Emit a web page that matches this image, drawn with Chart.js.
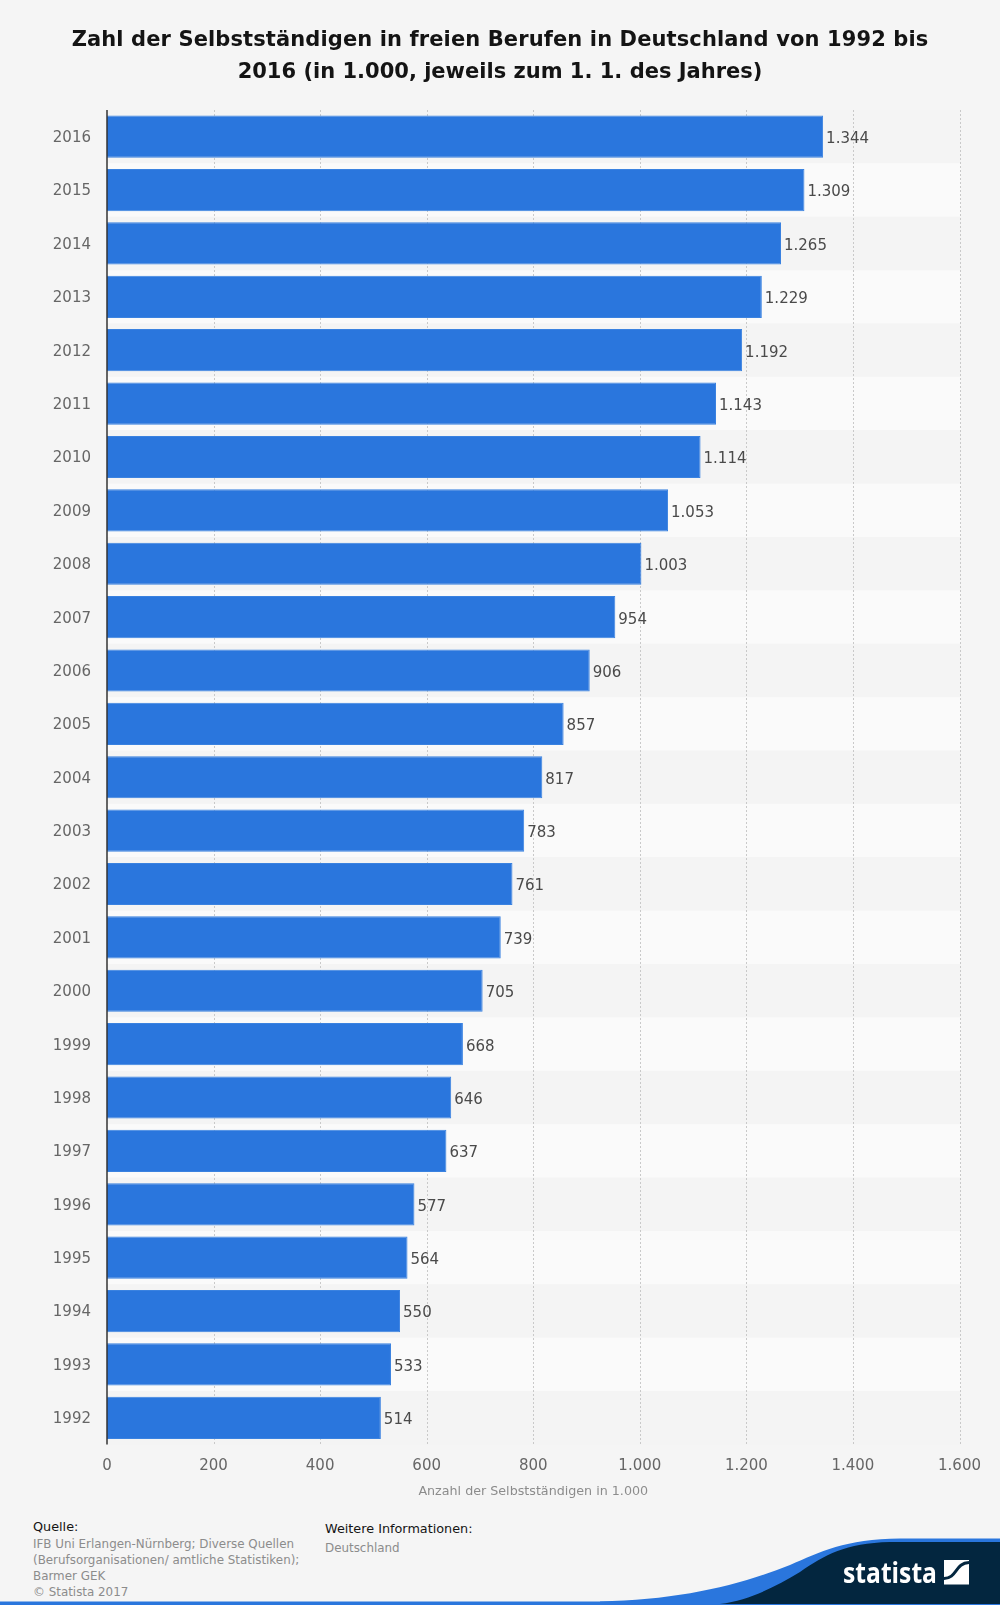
<!DOCTYPE html>
<html><head><meta charset="utf-8">
<script src="https://cdn.jsdelivr.net/npm/chart.js@4/dist/chart.umd.min.js"></script>
<style>
html,body{margin:0;padding:0;background:#f5f5f5;}
body{width:1000px;height:1605px;position:relative;overflow:hidden;font-family:"DejaVu Sans",sans-serif;}
#title{position:absolute;left:40px;width:920px;top:23px;text-align:center;font-weight:bold;font-size:21px;line-height:32px;color:#141414;letter-spacing:0.11px;}
#title span{letter-spacing:0;}
#wrap{position:absolute;left:0;top:0;width:1000px;height:1510px;}
.f{position:absolute;font-size:11.9px;line-height:16px;color:#8c8c8c;white-space:nowrap;}
.h{color:#141414;font-size:12.8px;}
svg{position:absolute;left:0;top:0;}
</style></head><body>
<div id="wrap"><canvas id="c"></canvas></div>
<div id="title">Zahl der Selbstständigen in freien Berufen in Deutschland von 1992 bis<br><span>2016 (in 1.000, jeweils zum 1. 1. des Jahres)</span></div>
<div class="f h" style="left:33px;top:1519px">Quelle:</div>
<div class="f" style="left:33px;top:1536px">IFB Uni Erlangen-Nürnberg; Diverse Quellen<br>(Berufsorganisationen/ amtliche Statistiken);<br>Barmer GEK<br>© Statista 2017</div>
<div class="f h" style="left:325px;top:1521px">Weitere Informationen:</div>
<div class="f" style="left:325px;top:1540px">Deutschland</div>
<svg width="1000" height="1605" viewBox="0 0 1000 1605">
<rect x="0" y="1601.5" width="1000" height="3.5" fill="#2a76dd"/>
<path d="M600 1601.5 C680 1600 740 1585 790 1565 C820 1552 845 1539 900 1538.5 L1000 1538.5 L1000 1605 L600 1605 Z" fill="#2a76dd"/>
<path d="M720 1604 C750 1600 775 1587 800 1572 C825 1555 845 1543 890 1542 L1000 1542 L1000 1604 Z" fill="#03263f"/>
<text x="843" y="1583" font-family="'Open Sans',sans-serif" font-weight="bold" font-size="29" fill="#fff" textLength="94" lengthAdjust="spacingAndGlyphs">statista</text>
<rect x="944" y="1560" width="25" height="24.5" fill="#fff"/>
<path d="M944 1578.5 C957 1578.5 955 1563 969 1562.5" fill="none" stroke="#03263f" stroke-width="3"/>
</svg>
<script>
const categories=["2016","2015","2014","2013","2012","2011","2010","2009","2008","2007","2006","2005","2004","2003","2002","2001","2000","1999","1998","1997","1996","1995","1994","1993","1992"];
const values=[1344,1309,1265,1229,1192,1143,1114,1053,1003,954,906,857,817,783,761,739,705,668,646,637,577,564,550,533,514];
const axisTitle="Anzahl der Selbstständigen in 1.000";
const fmt=v=>String(v).replace(/\B(?=(\d{3})+$)/g,".");
const stripes={id:"stripes",beforeDatasetsDraw(ch){
  const {ctx,chartArea:a,scales:{y}}=ch;const h=(y.getPixelForValue(1)-y.getPixelForValue(0));
  categories.forEach((c,i)=>{ctx.fillStyle=i%2?"#fafafa":"#f4f4f4";
    ctx.fillRect(a.left,y.getPixelForValue(i)-h/2,a.right-a.left+1.5,h);});
  const x=ch.scales.x;ctx.save();ctx.strokeStyle="#c9c9c9";ctx.lineWidth=1;ctx.setLineDash([2,2]);
  x.ticks.forEach(t=>{if(!t.value)return;const p=Math.round(x.getPixelForValue(t.value))+.5;ctx.beginPath();ctx.moveTo(p,a.top);ctx.lineTo(p,a.bottom);ctx.stroke();});
  ctx.restore();
}};
const labels={id:"labels",afterDatasetsDraw(ch){
  const {ctx}=ch;ctx.save();ctx.font='15px "DejaVu Sans"';ctx.fillStyle="#4a4a4a";ctx.textBaseline="middle";ctx.textAlign="left";
  ch.getDatasetMeta(0).data.forEach((b,i)=>ctx.fillText(fmt(values[i]),b.x+3,b.y+2.5));
  const a=ch.chartArea;ctx.strokeStyle="#333";ctx.lineWidth=1.5;ctx.beginPath();ctx.moveTo(a.left,a.top);ctx.lineTo(a.left,a.bottom);ctx.stroke();
  ctx.restore();
}};
new Chart(document.getElementById("c"),{type:"bar",
 data:{labels:categories,datasets:[{data:values,backgroundColor:"#2a76dd",borderColor:"#3a82e0",borderWidth:1,categoryPercentage:0.79,barPercentage:1}]},
 plugins:[stripes,labels],
 options:{indexAxis:"y",responsive:true,maintainAspectRatio:false,animation:false,
  layout:{padding:{left:0,right:40.5,top:110,bottom:0}},
  plugins:{legend:{display:false},tooltip:{enabled:false}},
  scales:{
   x:{min:0,max:1600,afterFit(s){s.height=1510-1444.5;},ticks:{stepSize:200,callback:v=>fmt(v),color:"#666",font:{family:"DejaVu Sans",size:15},padding:13,maxRotation:0,align:"center"},
      grid:{display:false,drawTicks:false},border:{display:false},
      title:{display:true,text:axisTitle,color:"#8c8c8c",font:{family:"DejaVu Sans",size:12.7},padding:{top:8,bottom:11}}},
   y:{afterFit(s){s.width=107;},ticks:{color:"#666",font:{family:"DejaVu Sans",size:15},padding:16,labelOffset:1.5},grid:{display:false,drawTicks:false},border:{display:false}}
  }}
});
</script>
</body></html>
